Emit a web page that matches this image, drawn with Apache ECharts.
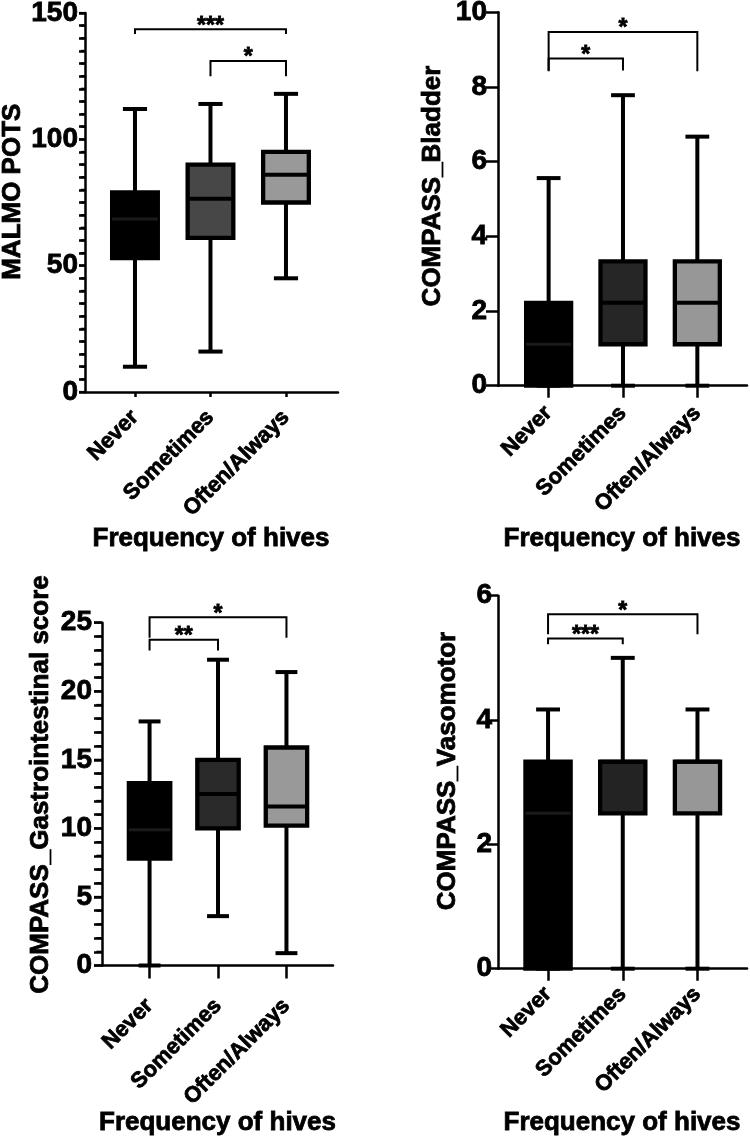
<!DOCTYPE html>
<html>
<head>
<meta charset="utf-8">
<title>Frequency of hives</title>
<script src="https://cdn.jsdelivr.net/npm/echarts@6.0.0/dist/echarts.min.js"></script>
<style>
  html, body { margin: 0; padding: 0; background: #fff; }
  #chart { width: 750px; height: 1140px; }
</style>
</head>
<body>
<div id="chart"></div>
<script>
// categories
const groups = ["Never", "Sometimes", "Often/Always"];

// box values per group: [min, q1, median, q3, max]
const malmoBox = [[10, 53, 68.5, 79, 112], [16, 61, 76.5, 90, 114], [45, 75, 86, 95, 118]];
const bladderBox = [[0, 0, 1.11, 2.22, 5.56], [0, 1.11, 2.22, 3.33, 7.78], [0, 1.11, 2.22, 3.33, 6.67]];
const giBox = [[0, 7.8, 9.9, 13.3, 17.8], [3.6, 10, 12.5, 15, 22.3], [0.9, 10.2, 11.6, 15.9, 21.4]];
const vasoBox = [[0, 0, 2.5, 3.33, 4.17], [0, 2.5, 3.33, 3.33, 5], [0, 2.5, 3.33, 3.33, 4.17]];

// significance brackets: [fromGroup, toGroup, lineValue, dropValue]
const malmoSig = [[0, 2, 143.6, 141.7], [1, 2, 131, 125]];
const malmoStars = ["***", "*"];
const bladderSig = [[0, 1, 8.76, 8.44], [0, 2, 9.47, 8.42]];
const bladderStars = ["*", "*"];
const giSig = [[0, 1, 23.76, 22.98], [0, 2, 25.4, 23.9]];
const giStars = ["**", "*"];
const vasoSig = [[0, 1, 5.31, 5.22], [0, 2, 5.7, 5.38]];
const vasoStars = ["***", "*"];

const FONT = "Liberation Sans";

const panels = [
  {
    box: malmoBox, sig: malmoSig, stars: malmoStars, title: "MALMO POTS",
    fills: ["#000000", "#474747", "#999999"],
    grid: { left: 85, top: 13, width: 253, height: 379 },
    xRange: [-0.662, 2.689], yMax: 150, yStep: 50, tickStep: 5,
    xTick: 5, yTick: 6, xMargin: 22, yMargin: 7,
    titlePos: [12.5, 191.7], xTitlePos: [211, 539],
  },
  {
    box: bladderBox, sig: bladderSig, stars: bladderStars, title: "COMPASS_Bladder",
    fills: ["#000000", "#262626", "#979797"],
    grid: { left: 498, top: 12.3, width: 249, height: 373.4 },
    xRange: [-0.681, 2.668], yMax: 10, yStep: 2, tickStep: 2,
    xTick: 12, yTick: 12, xMargin: 24, yMargin: 11,
    titlePos: [432.5, 186], xTitlePos: [622, 539],
  },
  {
    box: giBox, sig: giSig, stars: giStars, title: "COMPASS_Gastrointestinal score",
    fills: ["#000000", "#2a2a2a", "#999999"],
    grid: { left: 102, top: 622.7, width: 231, height: 342.8 },
    xRange: [-0.695, 2.68], yMax: 25, yStep: 5, tickStep: 1,
    xTick: 13, yTick: 8, xMargin: 37, yMargin: 10,
    titlePos: [41, 784.5], xTitlePos: [217.5, 1123.3],
  },
  {
    box: vasoBox, sig: vasoSig, stars: vasoStars, title: "COMPASS_Vasomotor",
    fills: ["#000000", "#232323", "#979797"],
    grid: { left: 498, top: 595.7, width: 249, height: 373 },
    xRange: [-0.67, 2.663], yMax: 6, yStep: 2, tickStep: 2,
    xTick: 12, yTick: 11, xMargin: 22, yMargin: 6,
    titlePos: [447.5, 771], xTitlePos: [622, 1123],
  },
];

// heavy text look of the original figure
const heavy = { fontWeight: "bold", fontFamily: FONT, color: "#000", textBorderColor: "#000", textBorderWidth: 0.8 };

function boxRenderer(fills) {
  return function (params, api) {
    const i = api.value(0);
    const unit = api.size([1, 0])[0];
    const bw = unit * 0.605;
    const cw = unit * 0.32;
    const cx = api.coord([i, 0])[0];
    const y = (k) => api.coord([i, api.value(k)])[1];
    const pMin = y(1), pQ1 = y(2), pMed = y(3), pQ3 = y(4), pMax = y(5);
    const line = (x1, y1, x2, y2, color, w) => ({
      type: "line",
      shape: { x1, y1, x2, y2 },
      style: { stroke: color, lineWidth: w },
    });
    return {
      type: "group",
      children: [
        line(cx, pMax, cx, pMin, "#000", 4),
        line(cx - cw / 2, pMax, cx + cw / 2, pMax, "#000", 4),
        line(cx - cw / 2, pMin, cx + cw / 2, pMin, "#000", 4),
        {
          type: "rect",
          shape: { x: cx - bw / 2, y: pQ3, width: bw, height: pQ1 - pQ3 },
          style: { fill: fills[i], stroke: "#000", lineWidth: 4.3 },
        },
        line(cx - bw / 2, pMed, cx + bw / 2, pMed, i === 0 ? "#1a1a1a" : "#000", i === 0 ? 3 : 4),
      ],
    };
  };
}

function sigRenderer(stars) {
  return function (params, api) {
    const a = api.coord([api.value(0), api.value(2)]);
    const b = api.coord([api.value(1), api.value(2)]);
    const d = api.coord([api.value(0), api.value(3)])[1];
    return {
      type: "group",
      children: [
        {
          type: "polyline",
          shape: { points: [[a[0], d], [a[0], a[1]], [b[0], b[1]], [b[0], d]] },
          style: { stroke: "#000", lineWidth: 2, fill: null },
        },
        {
          type: "text",
          x: (a[0] + b[0]) / 2,
          y: a[1] - 3,
          style: {
            text: stars[params.dataIndex],
            fontSize: 23,
            fontWeight: "bold",
            fontFamily: FONT,
            align: "center",
            verticalAlign: "middle",
            fill: "#000",
            stroke: "#000",
            lineWidth: 0.8,
          },
        },
      ],
    };
  };
}

// small left-side tick marks along the y axis, placed through the axis scale
function tickRenderer(p) {
  return function (params, api) {
    const v = api.value(0);
    const pt = api.coord([p.xRange[0], v]);
    const major = Math.abs(v / p.yStep - Math.round(v / p.yStep)) < 1e-6;
    const len = major ? p.yTick : p.yTick * 0.7;
    return {
      type: "line",
      shape: { x1: pt[0] - len, y1: pt[1], x2: pt[0], y2: pt[1] },
      style: { stroke: "#000", lineWidth: 2.2 },
    };
  };
}

const grid = [], xAxis = [], yAxis = [], series = [], graphic = [];

panels.forEach((p, k) => {
  grid.push(Object.assign({ outerBoundsMode: "none", containLabel: false }, p.grid));
  xAxis.push({
    type: "value",
    gridIndex: k,
    min: p.xRange[0],
    max: p.xRange[1],
    splitLine: { show: false },
    axisLine: { show: true, onZero: false, lineStyle: { color: "#000", width: 2.5 } },
    axisTick: { show: true, customValues: [0, 1, 2], length: p.xTick, lineStyle: { color: "#000", width: 2.5 } },
    axisLabel: Object.assign({
      customValues: [0, 1, 2],
      formatter: (v) => groups[Math.round(v)],
      rotate: 45,
      margin: p.xMargin,
      fontSize: 22,
    }, heavy),
  });
  // ticks every tickStep, numbers only on multiples of yStep
  yAxis.push({
    type: "value",
    gridIndex: k,
    min: 0,
    max: p.yMax,
    interval: p.tickStep,
    splitLine: { show: false },
    axisLine: { show: true, onZero: false, lineStyle: { color: "#000", width: 2.5 } },
    axisTick: { show: true, interval: 0, length: p.yTick, lineStyle: { color: "#000", width: 2.5 } },
    axisLabel: Object.assign({
      interval: 0,
      hideOverlap: false,
      margin: p.yMargin,
      fontSize: 28,
      formatter: (v) => (Math.abs(v / p.yStep - Math.round(v / p.yStep)) < 1e-6 ? String(v) : ""),
    }, heavy),
  });
  series.push({
    type: "custom",
    xAxisIndex: k,
    yAxisIndex: k,
    clip: false,
    renderItem: boxRenderer(p.fills),
    data: p.box.map((d, i) => [i].concat(d)),
    z: 3,
  });
  series.push({
    type: "custom",
    xAxisIndex: k,
    yAxisIndex: k,
    clip: false,
    renderItem: sigRenderer(p.stars),
    data: p.sig,
    z: 4,
  });
  if (p.tickStep !== p.yStep) {
    const tickVals = [];
    for (let v = 0; v <= p.yMax + 1e-9; v += p.tickStep) tickVals.push([v]);
    series.push({
      type: "custom",
      xAxisIndex: k,
      yAxisIndex: k,
      clip: false,
      silent: true,
      renderItem: tickRenderer(p),
      data: tickVals,
      z: 5,
    });
  }
  graphic.push({
    type: "text",
    x: p.titlePos[0],
    y: p.titlePos[1],
    rotation: Math.PI / 2,
    style: {
      text: p.title, fontSize: 26, fontWeight: "bold", fontFamily: FONT,
      align: "center", verticalAlign: "middle", fill: "#000", stroke: "#000", lineWidth: 0.8,
    },
  });
  graphic.push({
    type: "text",
    x: p.xTitlePos[0],
    y: p.xTitlePos[1],
    style: {
      text: "Frequency of hives", fontSize: 26, fontWeight: "bold", fontFamily: FONT,
      align: "center", verticalAlign: "middle", fill: "#000", stroke: "#000", lineWidth: 0.8,
    },
  });
});

const chart = echarts.init(document.getElementById("chart"), null, { renderer: "canvas" });
chart.setOption({
  animation: false,
  backgroundColor: "#fff",
  grid,
  xAxis,
  yAxis,
  series,
  graphic,
});
</script>
</body>
</html>
